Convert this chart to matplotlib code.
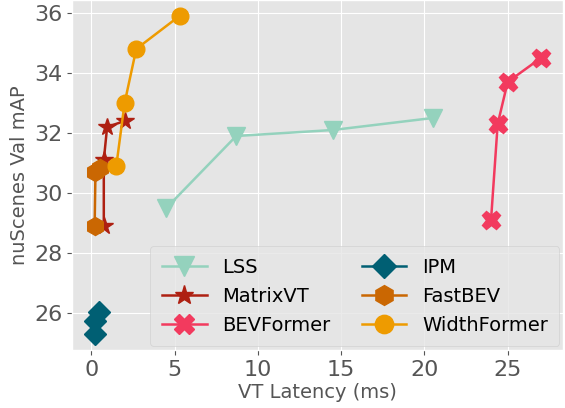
import matplotlib
matplotlib.use("Agg")
import matplotlib.pyplot as plt

plt.style.use("ggplot")

# (latency ms, mAP)
lss_x = [4.5, 8.7, 14.5, 20.5]
lss_y = [29.5, 31.9, 32.1, 32.5]

matrixvt_x = [0.75, 0.75, 0.95, 2.0]
matrixvt_y = [28.9, 31.1, 32.2, 32.4]

bevformer_x = [24.0, 24.4, 25.0, 27.0]
bevformer_y = [29.1, 32.3, 33.7, 34.5]

ipm_x = [0.2, 0.2, 0.45]
ipm_y = [25.3, 25.75, 26.05]

fastbev_x = [0.2, 0.25, 0.55]
fastbev_y = [28.9, 30.7, 30.85]

widthformer_x = [1.5, 2.0, 2.7, 5.3]
widthformer_y = [30.9, 33.0, 34.8, 35.9]

fig, ax = plt.subplots(figsize=(5.65, 4.08), dpi=100)

ax.plot(lss_x, lss_y, marker="v", color="#94d2bd", ms=13, lw=1.8, label="LSS")
ax.plot(matrixvt_x, matrixvt_y, marker="*", color="#ae2012", ms=13, lw=1.8, label="MatrixVT")
ax.plot(bevformer_x, bevformer_y, marker="X", color="#f23a5e", ms=13, lw=1.8, label="BEVFormer")
ax.plot(ipm_x, ipm_y, marker="D", color="#005f73", ms=11, lw=1.8, label="IPM")
ax.plot(fastbev_x, fastbev_y, marker="h", color="#ca6702", ms=13, lw=1.8, label="FastBEV")
ax.plot(widthformer_x, widthformer_y, marker="o", color="#ee9b00", ms=12, lw=1.8, label="WidthFormer")

ax.set_xlabel("VT Latency (ms)", fontsize=14, labelpad=2)
ax.set_ylabel("nuScenes Val mAP", fontsize=14, labelpad=4)
ax.tick_params(labelsize=16)
ax.set_xticks([0, 5, 10, 15, 20, 25])
ax.set_yticks([26, 28, 30, 32, 34, 36])

ax.legend(loc="lower right", ncol=2, fontsize=14, markerscale=1.1,
          handlelength=2.3, columnspacing=1.6, borderpad=0.6,
          borderaxespad=0.2)

fig.subplots_adjust(left=0.128, right=0.997, top=1.0, bottom=0.142)
fig.savefig("out.png", dpi=100)
